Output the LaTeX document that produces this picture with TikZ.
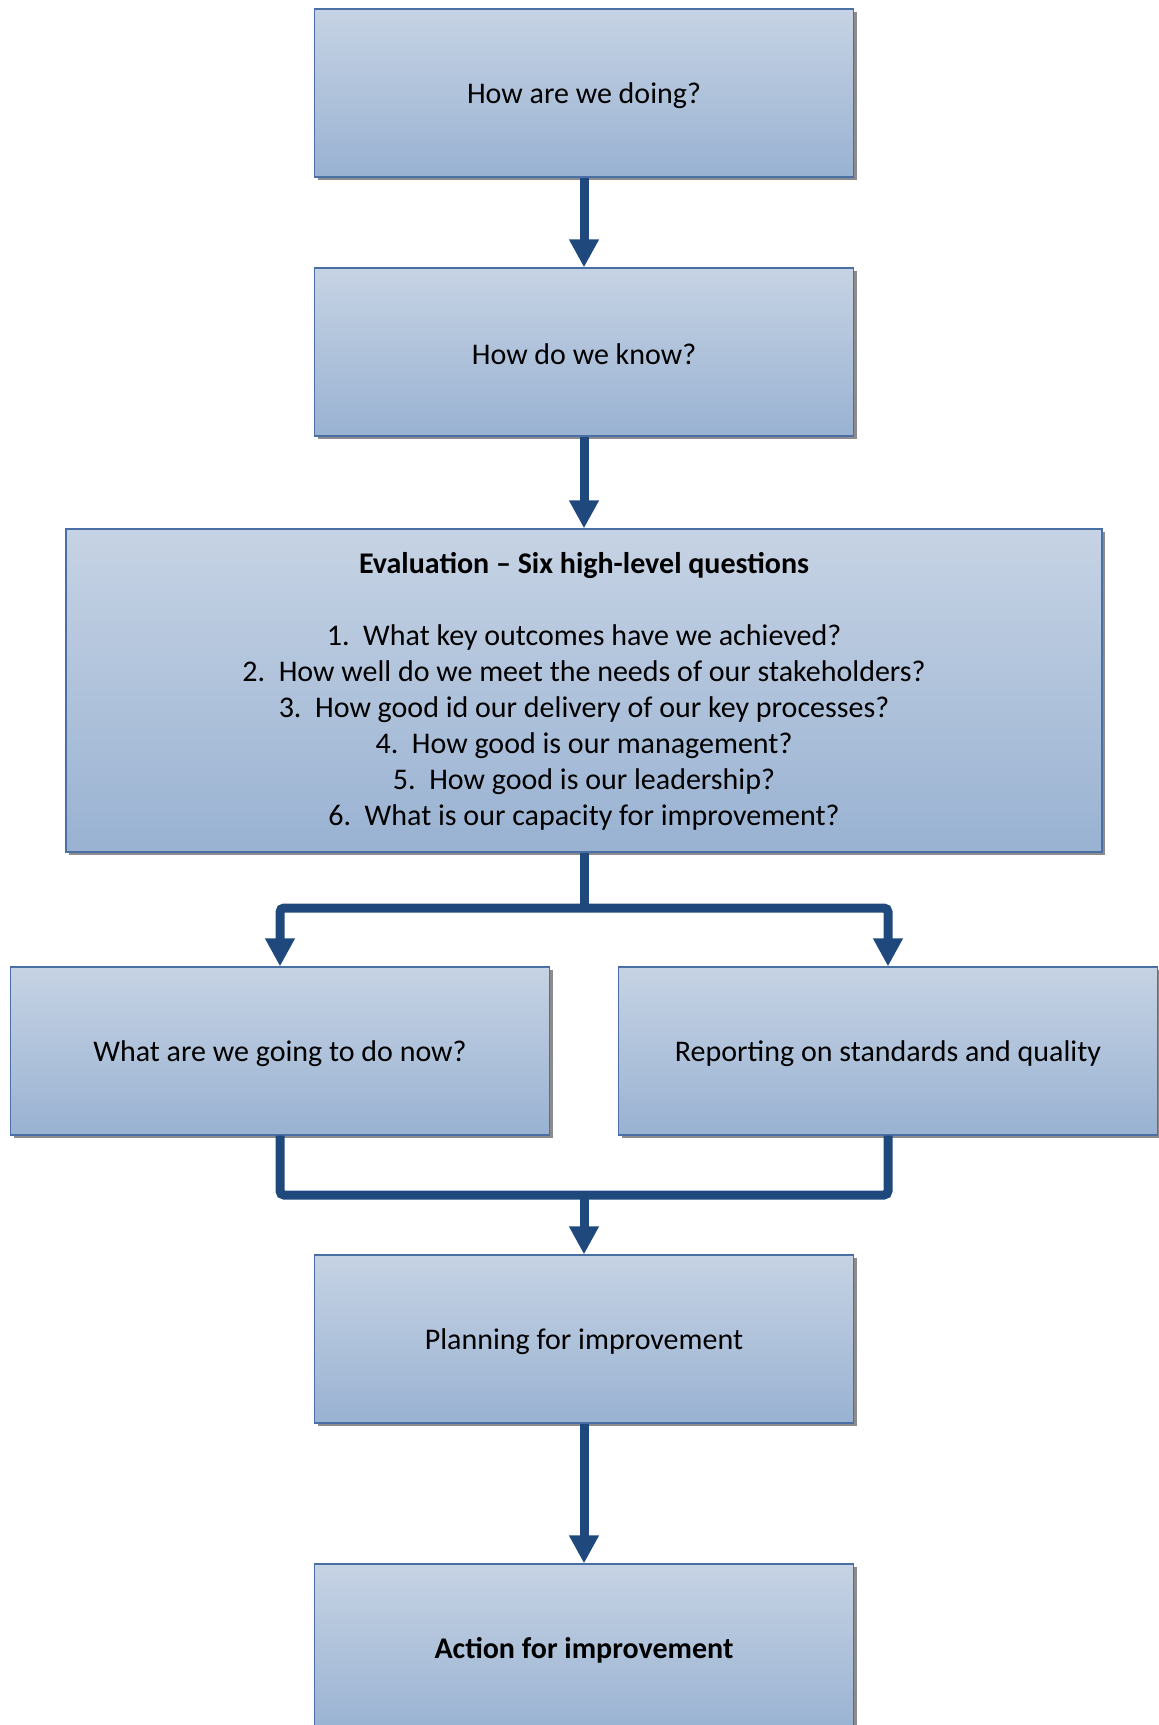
\documentclass[tikz,border=0pt]{standalone}
\usepackage{fontspec}
\setmainfont{Carlito}
\usetikzlibrary{arrows.meta,shadows}
\definecolor{boxtop}{HTML}{C6D3E4}
\definecolor{boxbot}{HTML}{99B2D2}
\definecolor{boxedge}{HTML}{4A6FA5}
\definecolor{conncol}{HTML}{1F497D}
\definecolor{shadowcol}{HTML}{8C8C8C}
\newcommand{\lowertext}[1]{\raisebox{-1.1pt}[\height][\depth]{#1}}
\tikzset{
  x=0.5pt, y=-0.5pt,
  box/.style={rectangle, draw=boxedge, line width=0.6pt, top color=boxtop, bottom color=boxbot,
    minimum width=269.5pt, minimum height=84pt, inner sep=0pt, align=center,
    font=\fontsize{15}{18}\selectfont,
    drop shadow={shadow xshift=1.6pt, shadow yshift=-1.6pt, fill=shadowcol, opacity=1}},
  connline/.style={draw=conncol, line width=4.5pt, rounded corners=2pt},
  conn/.style={connline, -{Triangle[width=14pt,length=14pt]}},
}
\begin{document}
\begin{tikzpicture}
\useasboundingbox (0,0) rectangle (1159,1725);
\node[box] (b1) at (584,93) {\lowertext{How are we doing?}};
\node[box] (b2) at (584,352) {\lowertext{How do we know?}};
\node[box, minimum width=518pt, minimum height=161.5pt] (eval) at (584,690.5)
  {\lowertext{\begin{tabular}{@{}c@{}}
   \textbf{Evaluation – Six high-level questions}\\[18pt]
   1.\ \ What key outcomes have we achieved?\\
   2.\ \ How well do we meet the needs of our stakeholders?\\
   3.\ \ How good id our delivery of our key processes?\\
   4.\ \ How good is our management?\\
   5.\ \ How good is our leadership?\\
   6.\ \ What is our capacity for improvement?
  \end{tabular}}};
\node[box] (left) at (280,1051) {\lowertext{What are we going to do now?}};
\node[box] (right) at (888,1051) {\lowertext{Reporting on standards and quality}};
\node[box] (plan) at (584,1339) {\lowertext{Planning for improvement}};
\node[box] (action) at (584,1648) {\lowertext{\textbf{Action for improvement}}};
\coordinate (split) at (584,908);
\coordinate (merge) at (584,1195);
\draw[conn] (b1.south) -- (b2.north);
\draw[conn] (b2.south) -- (eval.north);
\draw[connline] (eval.south) -- (split);
\draw[conn] (split) -| (left.north);
\draw[conn] (split) -| (right.north);
\draw[connline] (left.south) |- (merge) -| (right.south);
\draw[conn] (merge) -- (plan.north);
\draw[conn] (plan.south) -- (action.north);
\end{tikzpicture}
\end{document}
